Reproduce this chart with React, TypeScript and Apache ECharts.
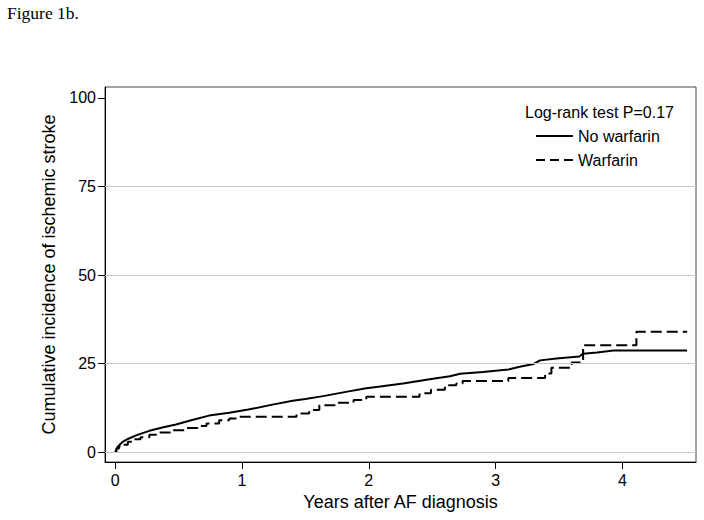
import React, { useEffect, useRef } from 'react';
import * as echarts from 'echarts';

const xTickValues = [0, 1, 2, 3, 4];
const yTickValues = [0, 25, 50, 75, 100];
const gridLineValues = [0, 25, 50, 75];

const noWarfarinYears = [0, 0.02, 0.06, 0.1, 0.17, 0.27, 0.38, 0.48, 0.6, 0.74, 0.9, 1.05, 1.24, 1.4, 1.5, 1.64, 1.82, 1.98, 2.09, 2.27, 2.48, 2.64, 2.72, 2.9, 3.1, 3.19, 3.3, 3.35, 3.48, 3.66, 3.69, 3.8, 3.93, 4.51];
const noWarfarinIncidence = [0, 1.5, 2.9, 3.7, 4.8, 6.0, 7.0, 7.8, 9.0, 10.3, 11.1, 12.0, 13.4, 14.5, 15.0, 15.8, 17.0, 18.0, 18.5, 19.4, 20.6, 21.4, 22.1, 22.6, 23.3, 24.1, 24.9, 25.9, 26.4, 27.0, 27.8, 28.1, 28.7, 28.7];

const warfarinYears = [0, 0.01, 0.03, 0.06, 0.1, 0.15, 0.2, 0.27, 0.35, 0.45, 0.55, 0.65, 0.72, 0.82, 0.9, 0.98, 1.43, 1.53, 1.61, 1.74, 1.88, 1.98, 2.4, 2.49, 2.6, 2.69, 2.74, 3.1, 3.39, 3.44, 3.6, 3.69, 4.11, 4.51];
const warfarinIncidence = [0, 1.0, 1.6, 2.1, 2.9, 3.6, 4.2, 4.9, 5.5, 6.2, 6.8, 7.4, 8.1, 9.0, 9.5, 10.0, 10.9, 11.9, 13.2, 13.9, 14.7, 15.6, 16.6, 17.6, 18.9, 19.4, 20.1, 20.9, 22.2, 23.8, 25.3, 30.2, 34.0, 34.0];

const FONT = 'Liberation Sans, Arial, sans-serif';

export default function App() {
  const ref = useRef<HTMLDivElement>(null);
  useEffect(() => {
    if (!ref.current) return;
    const chart = echarts.init(ref.current, null, { renderer: 'svg' });
    chart.setOption({
      animation: false,
      backgroundColor: '#ffffff',
      title: [
        {
          text: 'Figure 1b.',
          left: 7,
          top: 4,
          padding: 0,
          textStyle: { fontFamily: 'Liberation Serif, Times New Roman, serif', fontSize: 17.5, fontWeight: 'normal', color: '#000' },
        },
        {
          text: 'Log-rank test P=0.17',
          left: 525,
          top: 104,
          padding: 0,
          textStyle: { fontFamily: FONT, fontSize: 16, fontWeight: 'normal', color: '#000' },
        },
      ],
      legend: {
        data: [
          { name: 'No warfarin' },
          { name: 'Warfarin', lineStyle: { type: [9, 5] } },
        ],
        orient: 'vertical',
        left: 535,
        top: 128,
        padding: 0,
        itemWidth: 37,
        itemHeight: 16,
        itemGap: 8,
        itemStyle: { opacity: 0 },
        textStyle: { fontFamily: FONT, fontSize: 16, color: '#000' },
      },
      grid: {
        left: 105,
        right: 8,
        top: 87,
        bottom: 58,
        show: true,
        borderColor: '#444',
        borderWidth: 1,
        backgroundColor: 'transparent',
      },
      xAxis: {
        type: 'value',
        min: -0.08,
        max: 4.58,
        name: 'Years after AF diagnosis',
        nameLocation: 'middle',
        nameGap: 29,
        nameTextStyle: { fontFamily: FONT, fontSize: 18, color: '#000' },
        axisLine: { show: true, onZero: false, lineStyle: { color: '#000', width: 1 } },
        axisTick: { show: true, length: 7, customValues: xTickValues, lineStyle: { color: '#000' } },
        axisLabel: { customValues: xTickValues, fontFamily: FONT, fontSize: 16, color: '#000', margin: 10 },
        splitLine: { show: false },
      },
      yAxis: {
        type: 'value',
        min: -2.8,
        max: 103.1,
        name: 'Cumulative incidence of ischemic stroke',
        nameLocation: 'middle',
        nameGap: 47,
        nameTextStyle: { fontFamily: FONT, fontSize: 18, color: '#000' },
        axisLine: { show: true, onZero: false, lineStyle: { color: '#000', width: 1 } },
        axisTick: { show: true, length: 7, customValues: yTickValues, lineStyle: { color: '#000' } },
        axisLabel: { customValues: yTickValues, fontFamily: FONT, fontSize: 16, color: '#000', margin: 9 },
        splitLine: { show: false },
      },
      series: [
        {
          name: 'gridlines',
          type: 'line',
          data: [],
          z: 1,
          silent: true,
          markLine: {
            silent: true,
            symbol: ['none', 'none'],
            label: { show: false },
            lineStyle: { color: '#c8c8c8', type: 'solid', width: 1 },
            data: gridLineValues.map((v) => ({ yAxis: v })),
          },
        },
        {
          name: 'No warfarin',
          type: 'line',
          z: 3,
          symbol: 'none',
          showSymbol: false,
          color: '#000',
          lineStyle: { color: '#000', width: 2, type: 'solid' },
          data: noWarfarinYears.map((x, i) => [x, noWarfarinIncidence[i]]),
        },
        {
          name: 'Warfarin',
          type: 'line',
          z: 3,
          step: 'end',
          symbol: 'none',
          showSymbol: false,
          color: '#000',
          lineStyle: { color: '#000', width: 2, type: [11, 5] },
          data: warfarinYears.map((x, i) => [x, warfarinIncidence[i]]),
        },
      ],
    });
    return () => chart.dispose();
  }, []);
  return (
    <div
      ref={ref}
      style={{ position: 'absolute', left: 0, top: 0, width: 704, height: 520, background: '#fff' }}
    />
  );
}
